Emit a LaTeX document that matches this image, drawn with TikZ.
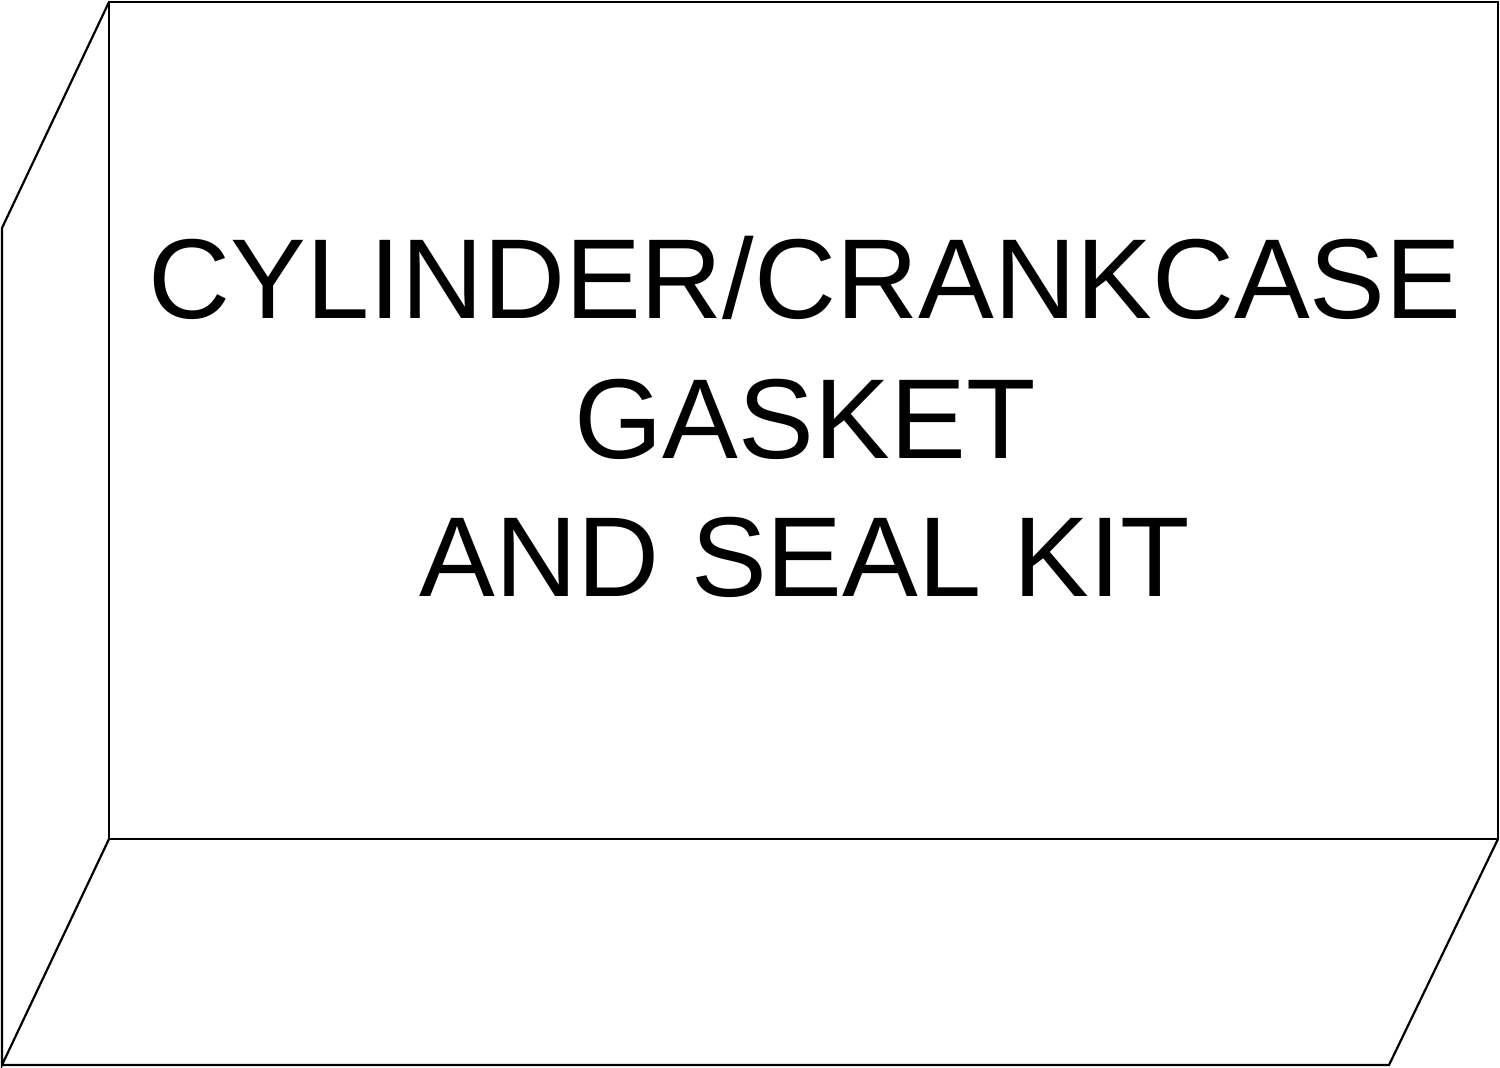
\documentclass[tikz,border=0pt]{standalone}
\usepackage{fontspec}
\setmainfont{Liberation Sans}
\begin{document}
\begin{tikzpicture}[x=1pt,y=-1pt,
  edge/.style={draw=black,line width=2.2pt,line join=miter},
  label/.style={anchor=base,inner sep=0pt,font=\fontsize{113.6}{113.6}\selectfont}]
\useasboundingbox (0,0) rectangle (1500,1068);
\coordinate (ftl) at (109,2);
\coordinate (ftr) at (1498,2);
\coordinate (fbr) at (1498,839);
\coordinate (fbl) at (109,839);
\coordinate (ltl) at (2,228);
\coordinate (lbl) at (2,1065);
\coordinate (bbr) at (1389,1065);
% front face
\draw[edge] (ftl) -- (ftr) -- (fbr) -- (fbl) -- cycle;
% left face
\draw[edge] (ftl) -- (ltl) -- (lbl) -- (fbl);
% bottom face
\draw[edge] (lbl) -- (bbr) -- (fbr);
\node[label] (t1) at (805,318) {CYLINDER/CRANKCASE};
\node[label] (t2) at (805,458) {GASKET};
\node[label] (t3) at (805,596) {AND SEAL KIT};
\end{tikzpicture}
\end{document}
